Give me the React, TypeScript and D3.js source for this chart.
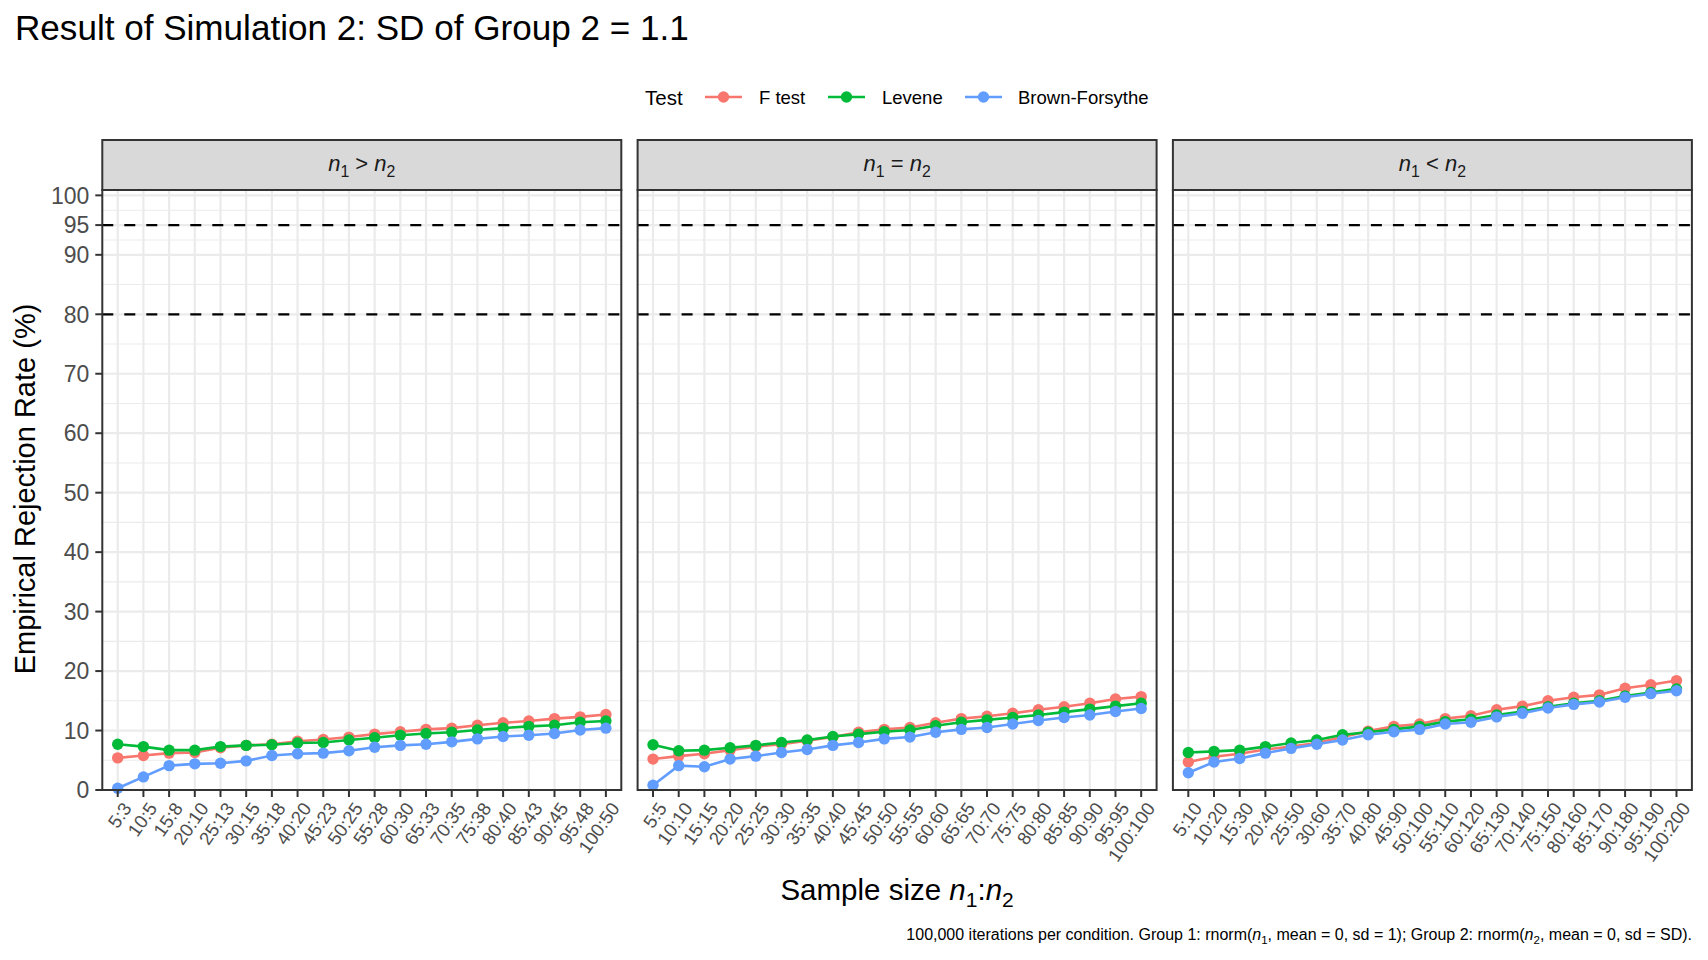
import * as d3 from "d3";

const panelTitles = [
  ["n", "1", " > ", "n", "2"],
  ["n", "1", " = ", "n", "2"],
  ["n", "1", " < ", "n", "2"],
];

const labelsGreater = ["5:3", "10:5", "15:8", "20:10", "25:13", "30:15", "35:18", "40:20", "45:23", "50:25", "55:28", "60:30", "65:33", "70:35", "75:38", "80:40", "85:43", "90:45", "95:48", "100:50"];
const labelsEqual = ["5:5", "10:10", "15:15", "20:20", "25:25", "30:30", "35:35", "40:40", "45:45", "50:50", "55:55", "60:60", "65:65", "70:70", "75:75", "80:80", "85:85", "90:90", "95:95", "100:100"];
const labelsLess = ["5:10", "10:20", "15:30", "20:40", "25:50", "30:60", "35:70", "40:80", "45:90", "50:100", "55:110", "60:120", "65:130", "70:140", "75:150", "80:160", "85:170", "90:180", "95:190", "100:200"];

// rejection rates (%) per test, per panel
const fGreater = [5.4, 5.8, 6.2, 6.3, 7.1, 7.5, 7.7, 8.2, 8.5, 8.9, 9.4, 9.8, 10.2, 10.4, 10.9, 11.3, 11.6, 12.0, 12.3, 12.7];
const leveneGreater = [7.7, 7.3, 6.7, 6.7, 7.3, 7.5, 7.6, 7.9, 8.0, 8.4, 8.8, 9.2, 9.5, 9.7, 10.1, 10.4, 10.7, 10.9, 11.4, 11.6];
const bfGreater = [0.3, 2.2, 4.1, 4.4, 4.5, 4.9, 5.8, 6.1, 6.2, 6.6, 7.2, 7.5, 7.7, 8.1, 8.6, 9.0, 9.2, 9.5, 10.1, 10.4];

const fEqual = [5.2, 5.7, 6.1, 6.7, 7.3, 7.7, 8.3, 8.9, 9.7, 10.2, 10.5, 11.3, 12.0, 12.4, 12.9, 13.5, 14.0, 14.6, 15.3, 15.7];
const leveneEqual = [7.6, 6.6, 6.7, 7.1, 7.5, 8.0, 8.4, 9.0, 9.4, 9.8, 10.1, 10.8, 11.4, 11.8, 12.2, 12.6, 13.1, 13.6, 14.1, 14.6];
const bfEqual = [0.8, 4.1, 3.9, 5.2, 5.7, 6.3, 6.8, 7.5, 8.0, 8.6, 8.9, 9.7, 10.2, 10.5, 11.1, 11.7, 12.2, 12.6, 13.2, 13.7];

const fLess = [4.7, 5.6, 6.1, 6.8, 7.3, 7.9, 8.9, 9.9, 10.7, 11.1, 12.0, 12.5, 13.5, 14.1, 15.0, 15.6, 16.0, 17.1, 17.7, 18.4];
const leveneLess = [6.3, 6.5, 6.7, 7.3, 7.9, 8.4, 9.3, 9.7, 10.2, 10.7, 11.5, 11.9, 12.6, 13.2, 14.0, 14.6, 15.0, 15.8, 16.4, 17.0];
const bfLess = [2.9, 4.7, 5.3, 6.2, 7.0, 7.7, 8.4, 9.3, 9.8, 10.2, 11.1, 11.4, 12.3, 12.9, 13.8, 14.4, 14.8, 15.6, 16.2, 16.7];

const testNames = ["F test", "Levene", "Brown-Forsythe"];
const testColors = ["#F8766D", "#00BA38", "#619CFF"];

const yBreaks = [0, 10, 20, 30, 40, 50, 60, 70, 80, 90, 95, 100];
const refLines = [80, 95];

const panels = [
  { labels: labelsGreater, series: [fGreater, leveneGreater, bfGreater] },
  { labels: labelsEqual, series: [fEqual, leveneEqual, bfEqual] },
  { labels: labelsLess, series: [fLess, leveneLess, bfLess] },
];

const W = 1708;
const H = 960;
const left = 102.3;
const panelW = 519;
const gap = 16.3;
const stripTop = 140;
const stripBottom = 190;
const bottom = 790;
const font = "'Liberation Sans', Arial, Helvetica, sans-serif";
const border = "#333333";

const y = d3.scaleLinear().domain([0, 100.9]).range([bottom, stripBottom]);

// minor breaks sit midway between major ones
const yMinor = d3.pairs(yBreaks).map(([a, b]) => (a + b) / 2);

function Sub({ parts, size }: { parts: string[]; size: number }) {
  return (
    <>
      <tspan fontStyle="italic">{parts[0]}</tspan>
      <tspan fontSize={size * 0.72} dy={size * 0.25}>{parts[1]}</tspan>
      <tspan dy={-size * 0.25}>{parts[2]}</tspan>
      <tspan fontStyle="italic">{parts[3]}</tspan>
      <tspan fontSize={size * 0.72} dy={size * 0.25}>{parts[4]}</tspan>
    </>
  );
}

function Panel({ index }: { index: number }) {
  const { labels, series } = panels[index];
  const x0 = left + index * (panelW + gap);
  const x = d3
    .scalePoint<string>()
    .domain(labels)
    .range([x0, x0 + panelW])
    .padding(0.6);
  const line = d3
    .line<number>()
    .x((_, i) => x(labels[i])!)
    .y((d) => y(d));

  return (
    <g>
      <rect x={x0} y={stripBottom} width={panelW} height={bottom - stripBottom} fill="#fff" />
      {yMinor.map((v) => (
        <line key={"m" + v} x1={x0} x2={x0 + panelW} y1={y(v)} y2={y(v)} stroke="#EBEBEB" strokeWidth={1.1} />
      ))}
      {yBreaks.map((v) => (
        <line key={"g" + v} x1={x0} x2={x0 + panelW} y1={y(v)} y2={y(v)} stroke="#EBEBEB" strokeWidth={2.2} />
      ))}
      {labels.map((l) => (
        <line key={"v" + l} x1={x(l)} x2={x(l)} y1={stripBottom} y2={bottom} stroke="#EBEBEB" strokeWidth={2.2} />
      ))}
      {refLines.map((v) => (
        <line key={"r" + v} x1={x0} x2={x0 + panelW} y1={y(v)} y2={y(v)} stroke="#000" strokeWidth={2.2} strokeDasharray="11,11" />
      ))}
      {series.map((vals, s) => (
        <g key={s}>
          <path d={line(vals)!} fill="none" stroke={testColors[s]} strokeWidth={2.6} />
          {vals.map((v, i) => (
            <circle key={i} cx={x(labels[i])} cy={y(v)} r={5.7} fill={testColors[s]} />
          ))}
        </g>
      ))}
      <rect x={x0} y={stripBottom} width={panelW} height={bottom - stripBottom} fill="none" stroke={border} strokeWidth={2} />
      <rect x={x0} y={stripTop} width={panelW} height={stripBottom - stripTop} fill="#D9D9D9" stroke={border} strokeWidth={2} />
      <text x={x0 + panelW / 2} y={171} textAnchor="middle" fontSize={22} fill="#1A1A1A" fontFamily={font}>
        <Sub parts={panelTitles[index]} size={22} />
      </text>
      {labels.map((l) => (
        <g key={"t" + l}>
          <line x1={x(l)} x2={x(l)} y1={bottom} y2={bottom + 7} stroke={border} strokeWidth={2} />
          <text
            transform={`translate(${x(l)! + 4},${bottom + 11}) rotate(-55)`}
            textAnchor="end"
            dy="0.7em"
            fontSize={18.5}
            fill="#4D4D4D"
            fontFamily={font}
          >
            {l}
          </text>
        </g>
      ))}
    </g>
  );
}

export default function App() {
  const legendX = [705, 828, 965];
  const legendTextX = [759, 882, 1018];
  return (
    <svg width={W} height={H} style={{ display: "block", position: "absolute", left: 0, top: 0 }} fontFamily={font}>
      <rect width={W} height={H} fill="#fff" />
      <text x={15} y={40} fontSize={35.1} fill="#000">
        Result of Simulation 2: SD of Group 2 = 1.1
      </text>

      <text x={645} y={105} fontSize={20.5} fill="#000">Test</text>
      {testNames.map((name, i) => (
        <g key={name}>
          <line x1={legendX[i]} x2={legendX[i] + 37} y1={97} y2={97} stroke={testColors[i]} strokeWidth={2.6} />
          <circle cx={legendX[i] + 18.5} cy={97} r={5.7} fill={testColors[i]} />
          <text x={legendTextX[i]} y={103.5} fontSize={18.5} fill="#000">{name}</text>
        </g>
      ))}

      {panels.map((_, i) => (
        <Panel key={i} index={i} />
      ))}

      {yBreaks.map((v) => (
        <g key={v}>
          <line x1={left - 7} x2={left} y1={y(v)} y2={y(v)} stroke={border} strokeWidth={2} />
          <text x={left - 13} y={y(v)} dy="0.36em" textAnchor="end" fontSize={23} fill="#4D4D4D">
            {v}
          </text>
        </g>
      ))}

      <text transform={`translate(35,489) rotate(-90)`} textAnchor="middle" fontSize={29} fill="#000">
        Empirical Rejection Rate (%)
      </text>

      <text x={left + (3 * panelW + 2 * gap) / 2} y={900} textAnchor="middle" fontSize={29.5} fill="#000">
        Sample size <tspan fontStyle="italic">n</tspan>
        <tspan fontSize={21} dy={7}>1</tspan>
        <tspan dy={-7}>:</tspan>
        <tspan fontStyle="italic">n</tspan>
        <tspan fontSize={21} dy={7}>2</tspan>
      </text>

      <text x={1692} y={940} textAnchor="end" fontSize={16} fill="#000">
        100,000 iterations per condition. Group 1: rnorm(<tspan fontStyle="italic">n</tspan>
        <tspan fontSize={11.5} dy={3.5}>1</tspan>
        <tspan dy={-3.5}>, mean = 0, sd = 1); Group 2: rnorm(</tspan>
        <tspan fontStyle="italic">n</tspan>
        <tspan fontSize={11.5} dy={3.5}>2</tspan>
        <tspan dy={-3.5}>, mean = 0, sd = SD).</tspan>
      </text>
    </svg>
  );
}
